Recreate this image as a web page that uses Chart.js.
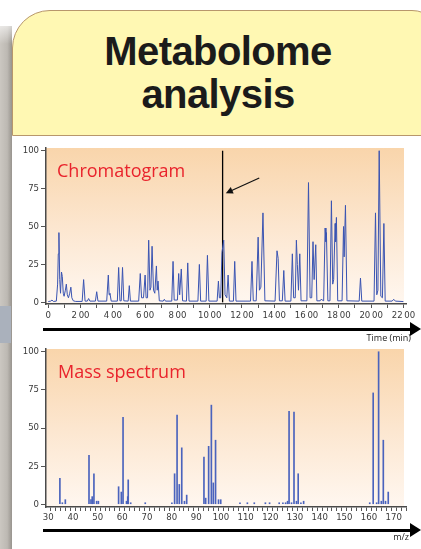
<!DOCTYPE html>
<html>
<head>
<meta charset="utf-8">
<script src="https://cdn.jsdelivr.net/npm/chart.js@4.4.1/dist/chart.umd.min.js"></script>
<style>
  html, body { margin: 0; padding: 0; background: #fff; }
  body { width: 421px; height: 549px; position: relative; overflow: hidden; }
  .abs { position: absolute; }
  #strip { left: 0; top: 26px; width: 12px; height: 523px;
    background: linear-gradient(to right, #cbc7c1 0%, #bdb9b3 60%, #98948e 100%); }
  #stripTop { left: 0; top: 14px; width: 12px; height: 30px;
    background: linear-gradient(to bottom, rgba(255,255,255,1), rgba(255,255,255,0)); }
  #bluish { left: 0; top: 306px; width: 11px; height: 37px; background: #aab1bc; }
  #card { left: 12px; top: 10px; width: 430px; height: 560px; background: #fff; }
  #header { left: 12px; top: 10px; width: 428px; height: 124px; background: #fff8b3;
    border: 1px solid #b8976c; border-top-left-radius: 38px; border-top-right-radius: 30px;
    box-sizing: content-box; }
  #title { left: 12px; top: 30px; width: 412px; text-align: center;
    font-family: "Liberation Sans", Arial, sans-serif; font-weight: bold; font-size: 40px;
    line-height: 43px; letter-spacing: -0.6px; color: #1b1b1b; }
  .panelLabel { font-family: "Open Sans", sans-serif; font-size: 18px; line-height: 18px;
    color: #e9232c; white-space: nowrap; }
  .axisName { font-family: "Open Sans", sans-serif; font-size: 9px; line-height: 9px;
    color: #222; white-space: nowrap; text-align: right; }
  .arrowLine { background: #000; height: 3px; }
  .arrowHead { width: 0; height: 0; border-top: 7px solid transparent; border-bottom: 7px solid transparent;
    border-left: 11px solid #000; }
  canvas { position: absolute; left: 0; }
</style>
</head>
<body>
<div id="card" class="abs"></div>
<div id="strip" class="abs"></div>
<div id="stripTop" class="abs"></div>
<div id="bluish" class="abs"></div>
<div id="header" class="abs"></div>
<div id="title" class="abs">Metabolome<br>analysis</div>

<canvas id="chrom" width="421" height="190" style="top:140px"></canvas>
<canvas id="mass" width="421" height="200" style="top:340px"></canvas>

<div class="abs panelLabel" style="left:57px; top:161px;">Chromatogram</div>
<div class="abs panelLabel" style="left:58px; top:362px;">Mass spectrum</div>

<div class="abs arrowLine" style="left:43px; top:328px; width:370px;"></div>
<div class="abs arrowHead" style="left:410px; top:322px;"></div>
<div class="abs axisName" style="right:10px; top:333px;">Time (min)</div>

<div class="abs arrowLine" style="left:43px; top:529px; width:370px;"></div>
<div class="abs arrowHead" style="left:410px; top:523px;"></div>
<div class="abs axisName" style="right:12px; top:532px;">m/z</div>

<script>
// ---------- Chromatogram data (time in min, relative intensity %) ----------
const chromTime = [
  0.0,0.15,0.23,0.32,0.5,
  0.58,0.62,0.66,0.71,0.76,0.82,0.87,0.93,0.98,1.06,1.12,1.18,1.25,1.33,1.4,1.46,1.55,1.7,
  2.1,2.19,2.28,2.42,2.5,2.58,
  2.92,3.0,3.08,
  3.62,3.72,3.77,3.82,3.9,
  4.28,4.36,4.44,4.52,4.6,4.68,
  4.95,5.02,5.09,
  5.6,5.7,5.78,5.9,6.0,6.06,6.15,6.22,6.3,6.36,6.43,6.52,6.6,6.7,6.75,6.8,6.88,
  7.12,7.19,7.26,
  7.65,7.73,7.8,8.0,8.08,8.14,8.24,8.32,
  8.56,8.64,8.72,
  9.27,9.36,9.44,9.78,9.86,9.95,
  10.46,10.54,10.6,10.68,10.76,10.87,10.95,11.06,11.14,11.22,
  11.47,11.55,11.63,
  12.53,12.62,12.7,12.88,13.0,13.08,13.17,13.3,13.42,
  14.05,14.17,14.24,14.32,14.5,14.59,14.67,
  15.03,15.12,15.2,15.3,15.37,15.43,15.5,15.58,15.66,
  16.02,16.12,16.22,16.32,16.4,16.47,16.57,16.64,16.84,16.9,
  17.06,17.15,17.2,17.23,17.32,17.45,17.54,17.62,17.68,17.77,17.8,17.85,17.93,
  18.2,18.29,18.33,18.41,18.5,
  19.26,19.34,19.42,
  20.18,20.27,20.35,20.42,20.5,20.6,20.7,20.79,20.87,
  21.3,21.4,21.5,22.0
];
const chromValue = [
  0.5,0.8,1.5,0.6,0.8,
  12,32,46,15,6,20,17,6,4,8,12,5,3,6,10,3,1,0.6,
  0.6,15,0.8,0.8,2.5,0.8,
  0.8,7,0.8,
  0.8,18,5,6,0.8,
  0.8,23,1,1,23,1,
  0.8,11,0.8,
  0.8,19,3,3,18,3,3,41,8,10,37,8,6,24,8,14,1,
  0.8,2,0.8,
  0.8,27,1.5,1.5,19,5,22,1,
  0.8,26,0.8,
  0.8,25,0.8,0.8,31,0.8,
  0.8,14,3,3,33,41,5,3,18,0.8,
  0.8,27,0.8,
  0.8,27,1,1,43,8,10,59,1,
  0.8,34,29,1,1,21,0.8,
  0.8,32,3,3,41,25,8,32,1,
  1,79,3,3,40,15,38,1,1,2,
  1,49,40,46,1,1,67,12,15,52,40,56,1,
  1,50,30,64,1,
  0.8,16,0.8,
  0.8,59,5,8,100,4,3,52,0.8,
  0.8,2,0.8,0.5
];
const markerTime = 10.8;              // selected scan (vertical black line)
const arrowFrom = [13.07, 82];        // annotation arrow tail (time, %)
const arrowTo = [11.0, 72];           // annotation arrow head (time, %)
const chromTicks = [0,1,2,3,4,5,6,7,8,9,10,11,12,13,14,15,16,17,18,19,20,21,22];
const chromTickLabels = {0:'0',2:'2\u200900',4:'4\u200900',6:'6\u200900',8:'8\u200900',10:'10\u200900',
  12:'12\u200900',14:'14\u200900',16:'16\u200900',18:'18\u200900',20:'20\u200900',22:'22\u200900'};

// ---------- Mass spectrum data (m/z, relative intensity %) ----------
const massMz = [
  34.7,35.7,36.9,46.5,47.3,47.8,48.5,49.6,50.3,
  58.5,59.6,60.3,61.7,62.2,62.4,63.4,69.3,
  80.1,81.2,82.2,83.1,84.1,85.2,86.1,
  93.1,93.8,95.0,96.1,96.9,97.8,99.0,99.9,
  107.7,110.7,113.5,118.0,119.7,123.6,125.1,126.2,127.0,127.6,128.6,129.6,130.6,131.3,132.4,133.5,
  160.3,161.7,163.1,163.9,165.0,165.8,166.7,167.8
];
const massIntensity = [
  17,1,3,32,3,5,20,2,2,
  11.5,8,57,2,5,16,1,1,
  1,20,58.5,13,37,2,6,
  31,4,38,65,14,42,3,3,
  1,1,1,1,1,1,1,1,2,61,1,60.5,2,20,1,2,
  1,73,1,100,2,42,2,8
];
const massTicks = [];
for (let v = 30; v <= 174; v += 2) massTicks.push(v);
const intensityTicks = [0,25,50,75,100];

// ---------- shared styling ----------
const tickFont = { family: "'DejaVu Sans Condensed', 'DejaVu Sans', sans-serif", size: 9.5 };
const tickColor = '#3a3a3a';

const plotBg = {
  id: 'plotBg',
  beforeDraw(chart) {
    const { ctx, chartArea: a } = chart;
    const g = ctx.createLinearGradient(0, a.top, 0, a.bottom);
    g.addColorStop(0, '#f9d5ab');
    g.addColorStop(0.5, '#fce6cf');
    g.addColorStop(1, '#fff7f0');
    ctx.save();
    ctx.fillStyle = g;
    ctx.fillRect(a.left, a.top, a.right - a.left - 2, a.bottom - a.top);
    ctx.restore();
  }
};

const arrowPlugin = {
  id: 'arrowNote',
  afterDatasetsDraw(chart) {
    const { ctx, scales: { x, y } } = chart;
    const x1 = x.getPixelForValue(arrowFrom[0]), y1 = y.getPixelForValue(arrowFrom[1]);
    const x2 = x.getPixelForValue(arrowTo[0]), y2 = y.getPixelForValue(arrowTo[1]);
    const ang = Math.atan2(y2 - y1, x2 - x1);
    ctx.save();
    ctx.strokeStyle = '#111'; ctx.fillStyle = '#111'; ctx.lineWidth = 1.2;
    ctx.beginPath(); ctx.moveTo(x1, y1); ctx.lineTo(x2 - 4 * Math.cos(ang), y2 - 4 * Math.sin(ang)); ctx.stroke();
    const h = 7, w = 3.5;
    ctx.beginPath();
    ctx.moveTo(x2, y2);
    ctx.lineTo(x2 - h * Math.cos(ang) + w * Math.sin(ang), y2 - h * Math.sin(ang) - w * Math.cos(ang));
    ctx.lineTo(x2 - h * Math.cos(ang) - w * Math.sin(ang), y2 - h * Math.sin(ang) + w * Math.cos(ang));
    ctx.closePath(); ctx.fill();
    ctx.restore();
  }
};

function axisCommon(tickLen) {
  return {
    grid: { display: true, drawOnChartArea: false, drawTicks: true, tickLength: tickLen, tickColor: '#555', tickWidth: 1 },
    border: { display: true, color: '#4a4a4a', width: 1.5 }
  };
}

// ---------- Chromatogram chart ----------
new Chart(document.getElementById('chrom'), {
  type: 'line',
  data: {
    datasets: [
      {
        data: chromTime.map((t, i) => ({ x: t, y: chromValue[i] })),
        borderColor: '#3a54b2', borderWidth: 1, pointRadius: 0, tension: 0, fill: false
      },
      {
        data: [{ x: markerTime, y: 0 }, { x: markerTime, y: 100 }],
        borderColor: '#000', borderWidth: 1.3, pointRadius: 0, fill: false
      }
    ]
  },
  options: {
    responsive: false, animation: false, devicePixelRatio: 1,
    layout: { padding: { left: 0, right: 15, top: 8, bottom: 0 } },
    plugins: { legend: { display: false }, tooltip: { enabled: false } },
    scales: {
      x: Object.assign(axisCommon(4), {
        type: 'linear', min: -0.14, max: 22.16,
        afterBuildTicks(s) { s.ticks = chromTicks.map(v => ({ value: v })); },
        afterFit(s) { s.height = 26; },
        ticks: { autoSkip: false, maxRotation: 0, padding: 2, font: tickFont, color: tickColor,
          callback: v => chromTickLabels[v] !== undefined ? chromTickLabels[v] : '' }
      }),
      y: Object.assign(axisCommon(5), {
        type: 'linear', min: -1.1, max: 101.8,
        afterBuildTicks(s) { s.ticks = intensityTicks.map(v => ({ value: v })); },
        afterFit(s) { s.width = 46; },
        ticks: { padding: 2, font: tickFont, color: tickColor, callback: v => String(v) }
      })
    }
  },
  plugins: [plotBg, arrowPlugin]
});

// ---------- Mass spectrum chart ----------
new Chart(document.getElementById('mass'), {
  type: 'bar',
  data: {
    datasets: [{
      data: massMz.map((m, i) => ({ x: m, y: massIntensity[i] })),
      backgroundColor: '#4a63bd', barThickness: 1, categoryPercentage: 1, barPercentage: 1
    }]
  },
  options: {
    responsive: false, animation: false, devicePixelRatio: 1,
    layout: { padding: { left: 0, right: 15, top: 9, bottom: 0 } },
    plugins: { legend: { display: false }, tooltip: { enabled: false } },
    scales: {
      x: Object.assign(axisCommon(4), {
        type: 'linear', min: 29.07, max: 175.0, offset: false,
        afterBuildTicks(s) { s.ticks = massTicks.map(v => ({ value: v })); },
        afterFit(s) { s.height = 33; },
        ticks: { autoSkip: false, maxRotation: 0, padding: 1, font: tickFont, color: tickColor,
          callback: v => (v % 10 === 0 ? String(v) : '') }
      }),
      y: Object.assign(axisCommon(5), {
        type: 'linear', min: -1.8, max: 101.8,
        afterBuildTicks(s) { s.ticks = intensityTicks.map(v => ({ value: v })); },
        afterFit(s) { s.width = 46; },
        ticks: { padding: 2, font: tickFont, color: tickColor, callback: v => String(v) }
      })
    }
  },
  plugins: [plotBg]
});
</script>
</body>
</html>
